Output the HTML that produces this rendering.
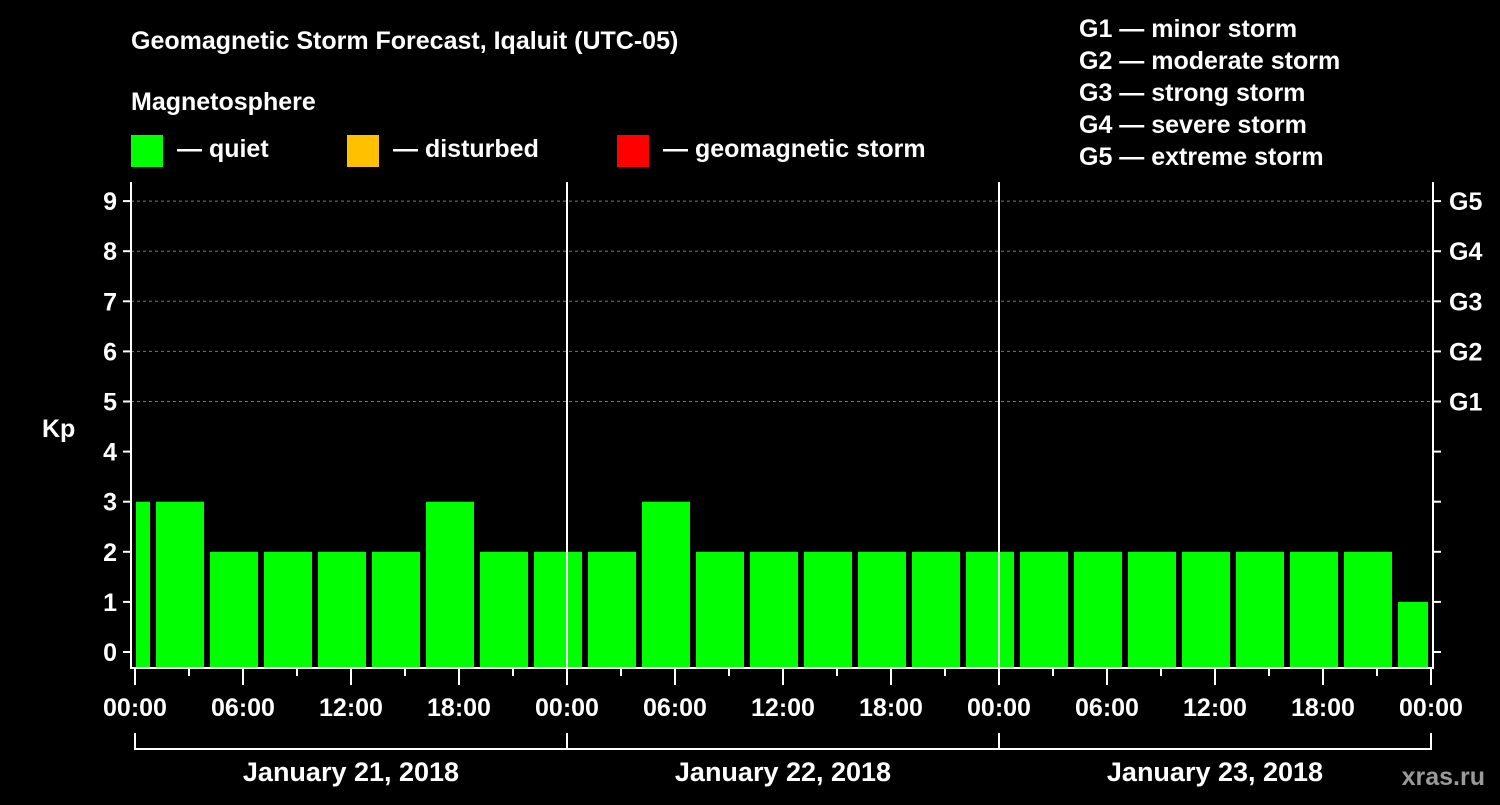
<!DOCTYPE html>
<html><head><meta charset="utf-8"><style>
body{margin:0;background:#000;}
svg text{font-family:"Liberation Sans",sans-serif;font-weight:bold;fill:#fff;}
</style></head><body>
<svg width="1500" height="800" viewBox="0 0 1500 800">
<rect width="1500" height="800" fill="#000"/>
<text x="131" y="49" font-size="25">Geomagnetic Storm Forecast, Iqaluit (UTC-05)</text>
<text x="131" y="110" font-size="25">Magnetosphere</text>
<g><rect x="131" y="135" width="32" height="32" fill="#00ff00"/><text x="177" y="157" font-size="25">— quiet</text></g>
<g><rect x="347" y="135" width="32" height="32" fill="#ffc000"/><text x="393" y="157" font-size="25">— disturbed</text></g>
<g><rect x="617" y="135" width="32" height="32" fill="#ff0000"/><text x="663" y="157" font-size="25">— geomagnetic storm</text></g>
<g font-size="25">
<text x="1079" y="37">G1 — minor storm</text>
<text x="1079" y="69">G2 — moderate storm</text>
<text x="1079" y="101">G3 — strong storm</text>
<text x="1079" y="133">G4 — severe storm</text>
<text x="1079" y="165">G5 — extreme storm</text>
</g>
<text x="42" y="437" font-size="25">Kp</text>
<text x="1485" y="785" font-size="25" text-anchor="end" fill="#888" style="fill:#9a9a9a">xras.ru</text>
<defs><clipPath id="pc"><rect x="136" y="170" width="1292" height="498"/></clipPath></defs>
<g id="grid"></g>
<g id="bars" clip-path="url(#pc)"></g>
<g id="axes"></g>
</svg>
<script>
const kpValues=[3,3,2,2,2,2,3,2,2,2,3,2,2,2,2,2,2,2,2,2,2,2,2,2,1];
const yTicks=[0,1,2,3,4,5,6,7,8,9];
const gLabels=["G1","G2","G3","G4","G5"];
const xTickLabels=["00:00","06:00","12:00","18:00","00:00","06:00","12:00","18:00","00:00","06:00","12:00","18:00","00:00"];
const dayLabels=["January 21, 2018","January 22, 2018","January 23, 2018"];
const NS="http://www.w3.org/2000/svg";
const y=v=>652-v*50.1;
const x=h=>135+h*18;
function mk(t,a,p){const e=document.createElementNS(NS,t);for(const k in a)e.setAttribute(k,a[k]);p.appendChild(e);return e;}
const grid=document.getElementById('grid'),bars=document.getElementById('bars'),axes=document.getElementById('axes');
for(let v=5;v<=9;v++){const l=mk('line',{x1:131,x2:1433,y1:y(v),y2:y(v),stroke:'#777','stroke-dasharray':'3,3'},grid);

}
kpValues.forEach((v,i)=>{const h0=-2+3*i;const r=mk('rect',{x:x(h0)+3,y:y(v),width:48,height:668-y(v),fill:'#00ff00'},bars);

});
[24,48].forEach(h=>{const l=mk('line',{x1:x(h),x2:x(h),y1:182,y2:668,stroke:'#fff','stroke-width':2},axes);

});
const frame=mk('path',{d:'M131,182V668H1433V182',fill:'none',stroke:'#fff','stroke-width':2},axes);


yTicks.forEach(v=>{mk('line',{x1:123,x2:131,y1:y(v),y2:y(v),stroke:'#fff','stroke-width':2},axes);
mk('line',{x1:1433,x2:1441,y1:y(v),y2:y(v),stroke:'#fff','stroke-width':2},axes);
const t=mk('text',{x:117,y:y(v)+9,'font-size':25,'text-anchor':'end'},axes);t.textContent=v;


if(v>=5){const g=mk('text',{x:1449,y:y(v)+9,'font-size':25},axes);g.textContent=gLabels[v-5];

}});
for(let h=0;h<=72;h+=3){mk('line',{x1:x(h),x2:x(h),y1:668,y2:h%6?676:685,stroke:'#fff','stroke-width':2},axes);}
xTickLabels.forEach((s,i)=>{const t=mk('text',{x:x(i*6),y:716,'font-size':25,'text-anchor':'middle'},axes);t.textContent=s;

});
const br=mk('path',{d:'M135,733V749H1431V733M567,733V749M999,733V749',fill:'none',stroke:'#fff','stroke-width':2},axes);


dayLabels.forEach((s,i)=>{const t=mk('text',{x:x(i*24+12),y:781,'font-size':27,'text-anchor':'middle'},axes);t.textContent=s;

});
</script>
</body></html>
